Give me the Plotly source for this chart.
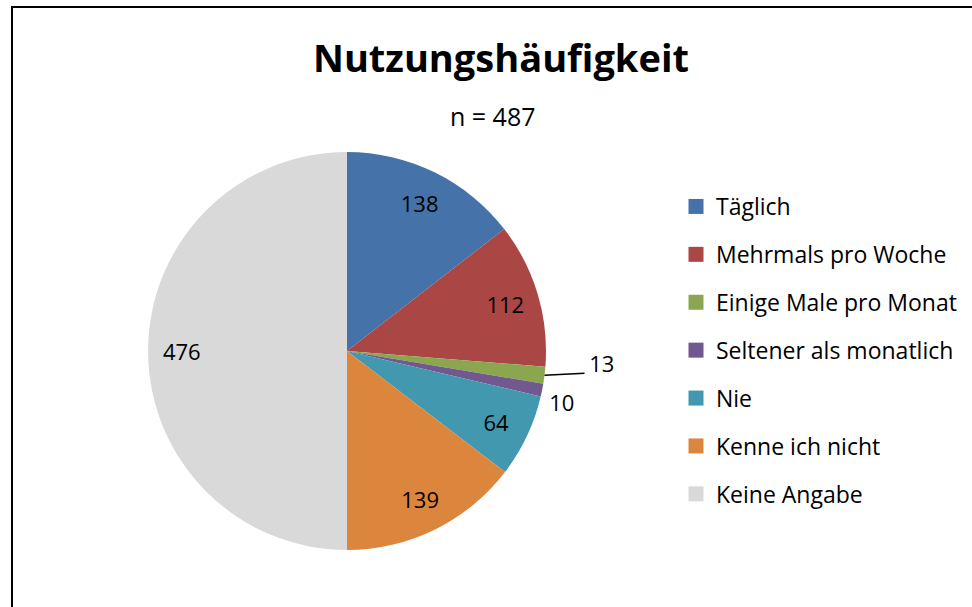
import math
import plotly.graph_objects as go

categories = ["Täglich", "Mehrmals pro Woche", "Einige Male pro Monat",
              "Seltener als monatlich", "Nie", "Kenne ich nicht", "Keine Angabe"]
values = [138, 112, 13, 10, 64, 139, 476]
colors = ["#4572A8", "#AA4643", "#8AA64E", "#71588F", "#4298AF", "#DC853D", "#D9D9D9"]
title_text = "Nutzungshäufigkeit"
subtitle_text = "n = 487"

W, H = 972, 607
FONT = "Open Sans"
CX, CY, R = 347, 351, 199

def dom(r):
    return dict(x=[(CX - r) / W, (CX + r) / W], y=[1 - (CY + r) / H, 1 - (CY - r) / H])

transparent = ["rgba(0,0,0,0)"] * len(values)
ring_pos = ["inside" if v >= 30 else "none" for v in values]

fig = go.Figure()
# the slices
fig.add_trace(go.Pie(
    labels=categories, values=values, sort=False, direction="clockwise",
    rotation=0, marker=dict(colors=colors, line=dict(width=0)),
    textinfo="none", showlegend=False, hoverinfo="label+value",
    domain=dom(R),
))
# data labels of the large slices, on a transparent ring so they sit near the rim
fig.add_trace(go.Pie(
    labels=categories, values=values, sort=False, direction="clockwise",
    rotation=0, hole=0.66,
    marker=dict(colors=transparent, line=dict(width=0)),
    textinfo="value", textposition=ring_pos,
    insidetextorientation="horizontal",
    textfont=dict(family=FONT, size=22, color="#000000"),
    showlegend=False, hoverinfo="skip",
    domain=dom(R),
))
# outside labels of the two thin slices (13 further out, 10 next to the rim)
FAR_IDX = 2
for idx, extra_r, rot in [(FAR_IDX, 36, -4), (3, 2, 3)]:
    fig.add_trace(go.Pie(
        labels=categories, values=values, sort=False, direction="clockwise",
        rotation=rot, hole=0.95,
        marker=dict(colors=transparent, line=dict(width=0)),
        textinfo="value",
        textposition=["outside" if i == idx else "none" for i in range(len(values))],
        textfont=dict(family=FONT, size=22, color="#000000"),
        showlegend=False, hoverinfo="skip",
        domain=dom(R + extra_r),
    ))

# leader line of the pushed-out label, starting on the rim at the slice's mid angle
total = sum(values)
mid = (sum(values[:FAR_IDX]) + values[FAR_IDX] / 2) / total * 2 * math.pi
sx = CX + R * math.sin(mid)
sy = CY - R * math.cos(mid)
leader = dict(type="line", xref="paper", yref="paper",
              x0=sx / W, y0=1 - sy / H, x1=(sx + 40) / W, y1=1 - (sy - 2) / H,
              line=dict(color="#000000", width=1.5))

# legend entries (one group each so entries are spaced like the original)
for i, (c, col) in enumerate(zip(categories, colors)):
    fig.add_trace(go.Scatter(
        x=[None], y=[None], mode="markers", name=c, legendgroup=f"g{i}",
        marker=dict(symbol="square", size=15, color=col, line=dict(width=0)),
        showlegend=True,
    ))

fig.update_layout(
    width=W, height=H,
    margin=dict(l=0, r=0, t=0, b=0),
    paper_bgcolor="white", plot_bgcolor="white",
    font=dict(family=FONT, color="#000000"),
    xaxis=dict(visible=False), yaxis=dict(visible=False),
    title=dict(text="<b>" + title_text + "</b>", x=501 / W, xanchor="center",
               y=1 - 59 / H, yanchor="middle", yref="paper",
               font=dict(family=FONT, size=38, color="#000000")),
    annotations=[dict(text=subtitle_text, x=493 / W, y=1 - 116 / H,
                      xref="paper", yref="paper", xanchor="center", yanchor="middle",
                      showarrow=False, font=dict(family=FONT, size=25, color="#000000"))],
    legend=dict(x=676 / W, y=1 - 185 / H, xanchor="left", yanchor="top",
                font=dict(family=FONT, size=23, color="#000000"),
                tracegroupgap=15, bgcolor="rgba(0,0,0,0)", borderwidth=0),
    shapes=[dict(type="rect", xref="paper", yref="paper",
                 x0=12 / W, x1=1.02, y0=-0.02, y1=1 - 7 / H,
                 line=dict(color="#000000", width=2)),
            leader],
)

fig.write_html("out.html", config={"displayModeBar": False},
               post_script="document.body.style.margin='0px';")
